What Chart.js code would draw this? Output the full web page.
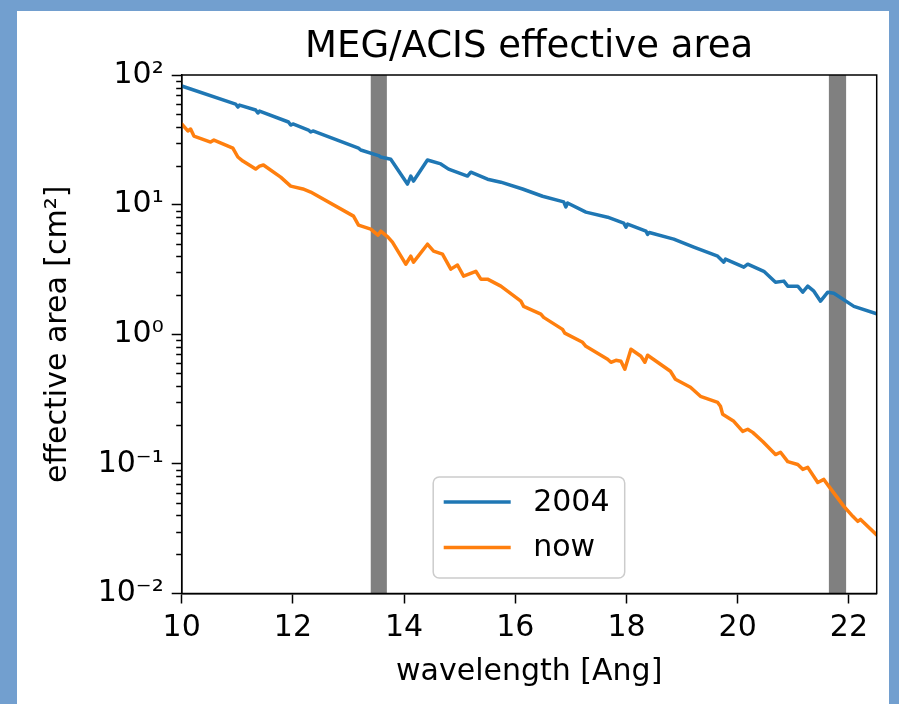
<!DOCTYPE html>
<html><head><meta charset="utf-8">
<script src="https://cdn.jsdelivr.net/npm/chart.js@4.4.1/dist/chart.umd.min.js"></script>
<style>
html,body{margin:0;padding:0;width:899px;height:704px;overflow:hidden;background:#729fcf;}
#panel{position:absolute;left:17px;top:11px;width:872px;height:693px;background:#fff;}
#wrap{position:absolute;left:0;top:0;width:899px;height:704px;}
canvas{display:block;}
</style></head><body>
<div id="panel"></div>
<div id="wrap"><canvas id="c" width="899" height="704"></canvas></div>
<script>
const wave2004 = [10.00,10.97,11.01,11.04,11.33,11.37,11.40,11.92,11.96,12.00,12.28,12.32,12.36,13.18,13.22,13.54,13.58,13.76,14.06,14.12,14.17,14.42,14.66,14.80,15.14,15.20,15.50,15.74,16.13,16.49,16.87,16.91,16.94,17.27,17.66,17.95,17.99,18.02,18.35,18.38,18.41,18.85,19.21,19.64,19.75,19.78,20.11,20.18,20.47,20.68,20.83,20.90,21.08,21.17,21.26,21.37,21.49,21.62,21.73,22.09,22.50];
const area2004 = [82.2,59.7,56.6,58.6,53.7,50.9,52.7,43.4,41.1,41.9,37.6,36.3,37.0,27.3,26.4,23.9,23.3,22.4,14.4,16.6,15.2,22.1,20.6,18.8,16.6,17.8,15.7,14.9,13.2,11.6,10.5,9.6,10.3,8.75,8.0,7.2,6.7,7.07,6.24,5.9,6.1,5.42,4.70,4.00,3.60,3.80,3.29,3.47,3.06,2.52,2.57,2.35,2.35,2.11,2.35,2.15,1.80,2.11,2.07,1.64,1.44];
const waveNow = [10.00,10.11,10.16,10.22,10.52,10.58,10.92,11.01,11.10,11.33,11.40,11.47,11.78,11.96,12.18,12.32,13.09,13.18,13.40,13.53,13.58,13.71,13.79,14.03,14.12,14.17,14.42,14.53,14.69,14.84,14.96,15.07,15.29,15.38,15.50,15.74,16.10,16.15,16.46,16.51,16.85,16.89,17.21,17.27,17.66,17.72,17.81,17.90,17.97,18.08,18.26,18.33,18.38,18.79,18.88,19.15,19.33,19.64,19.69,19.73,19.93,20.09,20.18,20.27,20.45,20.68,20.77,20.90,21.08,21.17,21.26,21.44,21.55,21.64,21.91,22.07,22.16,22.21,22.50];
const areaNow = [41.9,37.0,38.3,33.8,30.4,31.5,27.3,23.3,21.7,18.8,19.8,20.2,16.3,13.9,13.2,12.5,8.15,6.95,6.47,5.81,6.24,5.61,5.13,3.47,4.00,3.60,4.95,4.38,4.15,3.18,3.42,2.81,3.06,2.66,2.66,2.35,1.80,1.64,1.43,1.35,1.09,1.02,0.867,0.807,0.641,0.608,0.630,0.619,0.537,0.766,0.676,0.608,0.689,0.518,0.450,0.390,0.332,0.298,0.278,0.241,0.213,0.178,0.185,0.175,0.149,0.118,0.123,0.104,0.099,0.0907,0.0940,0.0719,0.0759,0.0670,0.0470,0.0394,0.0360,0.0373,0.0283];
const bandStart = [13.40, 21.64];
const bandEnd = [13.69, 21.95];
const xTicks = [10,12,14,16,18,20,22];
const yTicks = [0.01,0.1,1,10,100];
const yTickLabels = ['10\u207B\u00B2','10\u207B\u00B9','10\u2070','10\u00B9','10\u00B2'];
const seriesLabels = ['2004','now'];

const FONT = "'DejaVu Sans', sans-serif";

const bandsPlugin = {
  id: 'bands',
  beforeDatasetsDraw(chart) {
    const {ctx, chartArea: a, scales: {x}} = chart;
    ctx.save();
    ctx.beginPath(); ctx.rect(a.left, a.top, a.right - a.left, a.bottom - a.top); ctx.clip();
    ctx.fillStyle = '#808080';
    for (let i = 0; i < bandStart.length; i++) {
      const x0 = x.getPixelForValue(bandStart[i]);
      const x1 = x.getPixelForValue(bandEnd[i]);
      ctx.fillRect(x0, a.top, x1 - x0, a.bottom - a.top);
    }
    ctx.restore();
  }
};

const framePlugin = {
  id: 'frame',
  afterDraw(chart) {
    const {ctx, chartArea: a, scales: {y}} = chart;
    ctx.save();
    ctx.strokeStyle = '#000';
    ctx.lineWidth = 1.5;
    for (let d = 0; d < yTicks.length - 1; d++) {
      for (let k = 2; k <= 9; k++) {
        const py = Math.round(y.getPixelForValue(k * yTicks[d])) + 0.5;
        ctx.beginPath(); ctx.moveTo(a.left - 5.5, py); ctx.lineTo(a.left, py); ctx.stroke();
      }
    }
    ctx.strokeRect(a.left, a.top, a.right - a.left, a.bottom - a.top);
    // legend
    const bx = a.left + 251.5, by = a.top + 402, bw = 191.5, bh = 101, r = 6;
    ctx.beginPath();
    ctx.moveTo(bx + r, by); ctx.lineTo(bx + bw - r, by); ctx.arcTo(bx + bw, by, bx + bw, by + r, r);
    ctx.lineTo(bx + bw, by + bh - r); ctx.arcTo(bx + bw, by + bh, bx + bw - r, by + bh, r);
    ctx.lineTo(bx + r, by + bh); ctx.arcTo(bx, by + bh, bx, by + bh - r, r);
    ctx.lineTo(bx, by + r); ctx.arcTo(bx, by, bx + r, by, r); ctx.closePath();
    ctx.fillStyle = 'rgba(255,255,255,0.85)'; ctx.fill();
    ctx.strokeStyle = '#cccccc'; ctx.lineWidth = 1.5; ctx.stroke();
    ctx.font = '30px ' + FONT;
    ctx.textBaseline = 'middle'; ctx.textAlign = 'left';
    chart.data.datasets.forEach((ds, i) => {
      const ly = by + 25 + i * 45.5;
      ctx.strokeStyle = ds.borderColor; ctx.lineWidth = 3.5; ctx.lineCap = 'butt';
      ctx.beginPath(); ctx.moveTo(bx + 10.5, ly); ctx.lineTo(bx + 77.5, ly); ctx.stroke();
      ctx.fillStyle = '#000';
      ctx.fillText(ds.label, bx + 100, ly + 1);
    });
    ctx.restore();
  }
};

new Chart(document.getElementById('c'), {
  type: 'line',
  data: {
    datasets: [
      {label: seriesLabels[0], data: wave2004.map((w, i) => ({x: w, y: area2004[i]})), borderColor: '#1f77b4', borderWidth: 3.5, pointRadius: 0, tension: 0, fill: false, borderJoinStyle: 'round', borderCapStyle: 'round'},
      {label: seriesLabels[1], data: waveNow.map((w, i) => ({x: w, y: areaNow[i]})), borderColor: '#ff7f0e', borderWidth: 3.5, pointRadius: 0, tension: 0, fill: false, borderJoinStyle: 'round', borderCapStyle: 'round'}
    ]
  },
  options: {
    responsive: false,
    animation: false,
    devicePixelRatio: 1,
    layout: {padding: {left: 0, right: 22.3, top: 0, bottom: 0}},
    plugins: {
      legend: {display: false},
      tooltip: {enabled: false},
      title: {display: true, fullSize: false, text: 'MEG/ACIS effective area', color: '#000',
        font: {family: FONT, size: 37, weight: 'normal', lineHeight: 1.2},
        padding: {top: 25.0, bottom: 5.6}}
    },
    scales: {
      x: {
        type: 'linear', min: 10, max: 22.5,
        afterBuildTicks: s => { s.ticks = xTicks.map(v => ({value: v})); },
        afterFit: s => { s.height = 110.5; },
        grid: {display: true, drawOnChartArea: false, drawTicks: true, tickLength: 10, tickWidth: 1.5, tickColor: '#000'},
        border: {display: true, color: '#000', width: 1.5},
        ticks: {color: '#000', font: {family: FONT, size: 30, lineHeight: 1.2}, padding: 6.5, maxRotation: 0, autoSkip: false},
        title: {display: true, text: 'wavelength [Ang]', color: '#000', font: {family: FONT, size: 30, lineHeight: 1.2}, padding: {top: 0, bottom: 13.4}}
      },
      y: {
        type: 'logarithmic', min: 0.01, max: 100,
        afterBuildTicks: s => { s.ticks = yTicks.map(v => ({value: v})); },
        afterFit: s => { s.width = 181.7; },
        grid: {display: true, drawOnChartArea: false, drawTicks: true, tickLength: 10, tickWidth: 1.5, tickColor: '#000'},
        border: {display: true, color: '#000', width: 1.5},
        ticks: {color: '#000', font: {family: FONT, size: 30, lineHeight: 1.2}, padding: 8, autoSkip: false,
          callback: (v) => { const i = yTicks.findIndex(t => Math.abs(t - v) / t < 1e-6); return i >= 0 ? yTickLabels[i] : ''; }},
        title: {display: true, text: 'effective area [cm\u00B2]', color: '#000', font: {family: FONT, size: 30, lineHeight: 1.2}, padding: {top: 40, bottom: 0}}
      }
    }
  },
  plugins: [bandsPlugin, framePlugin]
});
</script>
</body></html>
